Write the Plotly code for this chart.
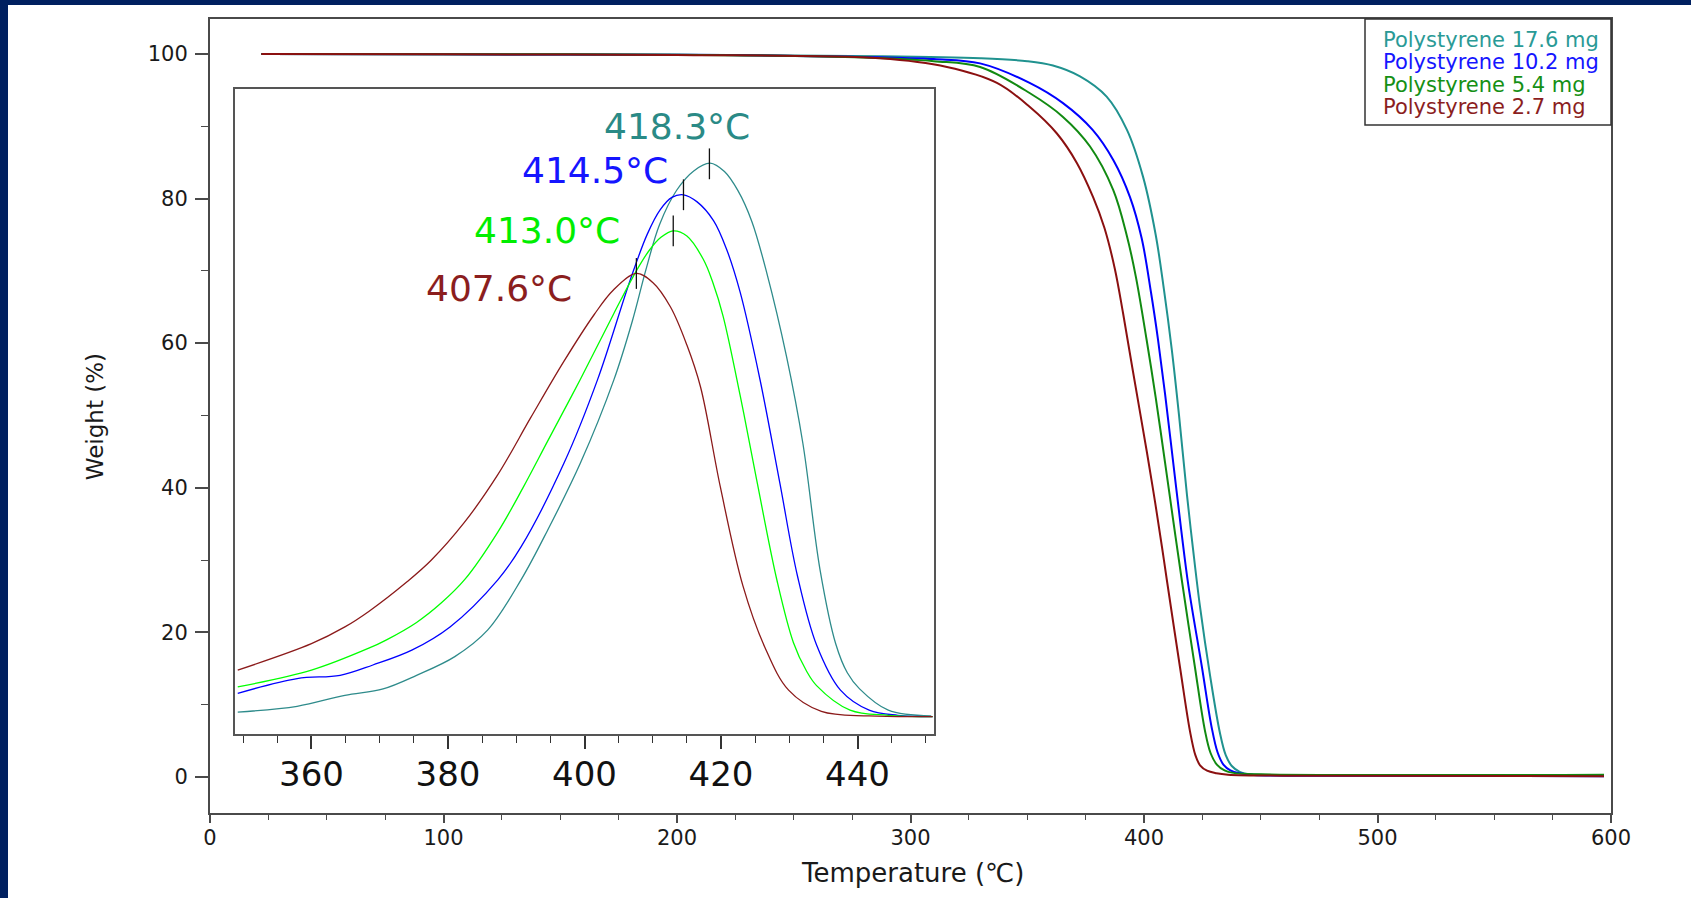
import plotly.graph_objects as go

# ---------------- data ----------------
series_names = ["Polystyrene 17.6 mg", "Polystyrene 10.2 mg",
                "Polystyrene 5.4 mg", "Polystyrene 2.7 mg"]

# TGA curves: temperature (°C) and weight (%)
tga_temp_176 = [22, 100, 200, 287, 330, 350, 361, 372.6, 384, 392.7, 399.6, 405, 408.5,
                411.9, 415, 418.4, 421, 424, 428.3, 432.5, 435, 437.6, 441, 446, 470, 597]
tga_wt_176 = [100, 99.95, 99.9, 99.7, 99.4, 99.0, 98.4, 96.9, 94.1, 89.5, 83.0, 75.0, 67.5,
              59.1, 50.0, 39.0, 31.5, 23.5, 14.0, 6.1, 3.0, 1.5, 0.7, 0.35, 0.25, 0.2]

tga_temp_102 = [22, 100, 200, 280, 310, 329.8, 351, 365.3, 378, 386.9, 394, 399, 403, 406,
                409, 412.5, 416, 419, 424.8, 429, 431.5, 434, 437, 441, 447, 470, 597]
tga_wt_102 = [100, 99.95, 99.9, 99.6, 99.3, 98.7, 96.0, 93.2, 89.5, 85.3, 80.2, 74.5, 67.0,
              60.5, 53.0, 43.5, 34.0, 26.5, 15.2, 6.8, 3.4, 1.7, 0.9, 0.5, 0.25, 0.15, 0.1]

tga_temp_54 = [22, 100, 200, 280, 310, 329.8, 351, 365.3, 376.9, 386.8, 392.7, 396.5, 401.1,
               405, 409, 412.5, 416.2, 421.8, 426.1, 428.5, 431.2, 434.5, 438.2, 450, 597]
tga_wt_54 = [100, 99.95, 99.9, 99.5, 99.0, 98.2, 94.6, 91.3, 87.2, 81.2, 74.8, 69.2, 60.5,
             52.5, 43.5, 35.5, 27.2, 15.2, 6.4, 3.3, 1.7, 0.9, 0.55, 0.35, 0.3]

tga_temp_27 = [22, 100, 200, 287, 315.6, 337, 351, 362.7, 371.3, 378.2, 383, 387.5, 391, 395,
               401.3, 404.7, 407.7, 409.8, 415.4, 419.7, 422, 424, 427, 431, 436, 470, 597]
tga_wt_27 = [100, 99.95, 99.85, 99.4, 98.2, 96.0, 92.7, 89.0, 84.9, 80.2, 76.0, 70.3, 64.2,
             56.6, 44.8, 38.1, 31.8, 27.2, 15.2, 6.3, 3.0, 1.6, 0.85, 0.5, 0.3, 0.15, 0.1]

# DTG curves (inset, arbitrary units)
dtg_temp_176 = [349.2, 357.9, 364.9, 370.5, 375.4, 381, 385.8, 390.7, 394.6, 399.4, 404.3,
                407, 409, 411, 413.5, 416, 418.4, 420.5, 422.5, 424.5, 426.7, 429.6, 432,
                434.5, 436.8, 438.5, 440.3, 444.5, 450.8]
dtg_rate_176 = [3.4, 4.3, 6.0, 7.0, 9.1, 12.0, 16.1, 23.9, 31.6, 42, 54.9,
                64, 72, 79, 84.3, 87.3, 88.5, 87.2, 84.2, 79.5, 71.5, 58.5, 45,
                25.5, 14, 9.5, 7.0, 3.7, 2.8]

dtg_temp_102 = [349.2, 357.9, 364.2, 369, 374.7, 380.3, 387.3, 390.7, 397, 401.9, 406.7,
                409.2, 411.1, 412.8, 414.5, 416.5, 418.9, 420.8, 422.8, 425.7, 428.6, 431.2,
                434, 437.5, 441.7, 445.9, 451]
dtg_rate_102 = [6.3, 8.6, 9.1, 10.7, 13.0, 16.6, 23.9, 29.0, 42, 54.9, 70.4,
                77.5, 81.3, 83.2, 83.6, 82.5, 79.6, 75.2, 68.5, 55.0, 39.0, 24.5,
                13.8, 6.8, 3.7, 2.9, 2.7]

dtg_temp_54 = [349.2, 360, 368.4, 371, 375.4, 379, 382.5, 387.3, 391, 394.6, 399.4, 404.3,
               407.7, 409.5, 411.2, 413.0, 415, 417.4, 418.8, 420.3, 422.8, 425.2, 428.2,
               430.6, 432.5, 434, 438.9, 444.5, 451]
dtg_rate_54 = [7.3, 9.9, 13.3, 14.6, 17.3, 20.3, 24.0, 31.3, 38.2, 45.4, 55.0, 65.2,
               72.0, 75.0, 77.0, 78.0, 77.2, 73.6, 70.0, 64.8, 52.5, 39.5, 23.8,
               14.2, 9.8, 7.5, 3.7, 2.9, 2.7]

dtg_temp_27 = [349.2, 360, 364.9, 368.4, 374, 377.5, 382.4, 387.3, 392.1, 397, 401.4,
               404.2, 407.6, 410, 412.6, 415, 417, 419.9, 423.2, 426.4, 429.9, 434.7,
               441.7, 451]
dtg_rate_27 = [9.9, 14.0, 16.6, 19.0, 23.6, 26.9, 32.8, 40.2, 49.0, 57.8, 65.0,
               68.8, 71.4, 70.0, 66.2, 60.3, 53.8, 38.3, 23.0, 13.5, 6.8, 3.5,
               2.8, 2.7]

peak_temps = [418.3, 414.5, 413.0, 407.6]
peak_rates = [88.4, 83.6, 78.0, 71.4]

main_x_ticks = [0, 100, 200, 300, 400, 500, 600]
main_y_ticks = [0, 20, 40, 60, 80, 100]
inset_x_ticks = [360, 380, 400, 420, 440]

# ---------------- styling / layout ----------------
W, H = 1691, 898
FONT = "DejaVu Sans"


def fx(px):
    return px / W


def fy(py):
    return 1 - py / H


main_colors = ["#20928f", "#0000ff", "#118a11", "#8b1010"]
inset_colors = ["#2e8b8b", "#0000ff", "#00ff00", "#8b1a1a"]
label_colors = ["#2a8a86", "#1515ff", "#00ee00", "#8b1e1e"]
legend_colors = ["#2a9a96", "#1515ff", "#159015", "#8b1e1e"]
# label centre positions in inset data coords (x, y)
label_pos = [(413.6, 94.2), (401.6, 87.4), (394.5, 78.1), (387.5, 69.1)]

tga_temps = [tga_temp_176, tga_temp_102, tga_temp_54, tga_temp_27]
tga_wts = [tga_wt_176, tga_wt_102, tga_wt_54, tga_wt_27]
dtg_temps = [dtg_temp_176, dtg_temp_102, dtg_temp_54, dtg_temp_27]
dtg_rates = [dtg_rate_176, dtg_rate_102, dtg_rate_54, dtg_rate_27]

fig = go.Figure()

for i in range(4):
    fig.add_trace(go.Scatter(
        x=tga_temps[i], y=tga_wts[i], mode="lines", name=series_names[i],
        line=dict(color=main_colors[i], width=2, shape="spline", smoothing=1.0),
        xaxis="x", yaxis="y", showlegend=False))

for i in range(4):
    fig.add_trace(go.Scatter(
        x=dtg_temps[i], y=dtg_rates[i], mode="lines", name=series_names[i],
        line=dict(color=inset_colors[i], width=1.3, shape="spline", smoothing=1.0),
        xaxis="x2", yaxis="y2", showlegend=False))

fig.add_trace(go.Scatter(
    x=peak_temps, y=peak_rates, mode="markers",
    marker=dict(symbol="line-ns", size=22, line=dict(color="#111111", width=1.3)),
    xaxis="x2", yaxis="y2", showlegend=False))

axis_line = "#4a4a4a"
tick_font = dict(family=FONT, size=21, color="#1a1a1a")

fig.update_layout(
    template="none",
    width=W, height=H, autosize=False,
    margin=dict(l=0, r=0, t=0, b=0, pad=0),
    paper_bgcolor="white", plot_bgcolor="white",
    xaxis=dict(domain=[fx(210), fx(1611)], range=[0, 600], tickvals=main_x_ticks,
               ticks="outside", ticklen=8, tickwidth=1.5, tickcolor=axis_line,
               minor=dict(dtick=25, tick0=0, ticks="outside", ticklen=5,
                          tickwidth=1.2, tickcolor=axis_line, showgrid=False),
               showline=True, linecolor=axis_line, linewidth=2, mirror=True,
               showgrid=False, zeroline=False, tickfont=tick_font, automargin=False,
               anchor="y", ticklabelstandoff=-3),
    yaxis=dict(domain=[fy(813), fy(19)], range=[-5, 104.84], tickvals=main_y_ticks,
               ticks="outside", ticklen=13, tickwidth=1.5, tickcolor=axis_line,
               minor=dict(dtick=10, tick0=0, ticks="outside", ticklen=7,
                          tickwidth=1.2, tickcolor=axis_line, showgrid=False),
               showline=True, linecolor=axis_line, linewidth=2, mirror=True,
               showgrid=False, zeroline=False, tickfont=tick_font, automargin=False,
               anchor="x", ticklabelstandoff=3),
    xaxis2=dict(domain=[fx(235), fx(934)], range=[348.8, 451.2], tickvals=inset_x_ticks,
                ticks="outside", ticklen=13, tickwidth=1.5, tickcolor="#333333",
                minor=dict(dtick=5, tick0=350, ticks="outside", ticklen=7,
                           tickwidth=1.2, tickcolor="#333333", showgrid=False),
                showline=True, linecolor="#555555", linewidth=2, mirror=True,
                showgrid=False, zeroline=False, automargin=False,
                tickfont=dict(family=FONT, size=34, color="#111111"),
                anchor="y2", ticklabelstandoff=-4),
    yaxis2=dict(domain=[fy(734), fy(89)], range=[0, 100],
                showticklabels=False, ticks="", automargin=False,
                showline=True, linecolor="#555555", linewidth=2, mirror=True,
                showgrid=False, zeroline=False, anchor="x2"),
    showlegend=False,
)

shapes = [
    dict(type="rect", xref="paper", yref="paper", x0=0, x1=fx(8), y0=0, y1=1,
         fillcolor="#002060", line=dict(width=0), layer="above"),
    dict(type="rect", xref="paper", yref="paper", x0=0, x1=1, y0=fy(5), y1=1,
         fillcolor="#002060", line=dict(width=0), layer="above"),
    dict(type="rect", xref="paper", yref="paper", x0=fx(1365), x1=fx(1611),
         y0=fy(125), y1=fy(19), fillcolor="rgba(0,0,0,0)",
         line=dict(color="#333333", width=1.5), layer="above"),
]

annotations = []
legend_y = [40, 62.5, 85, 107.5]
for i, name in enumerate(series_names):
    annotations.append(dict(
        xref="paper", yref="paper", x=fx(1381), y=fy(legend_y[i]),
        xanchor="left", yanchor="middle", showarrow=False, text=name,
        font=dict(family=FONT, size=21, color=legend_colors[i])))

for i, t in enumerate(peak_temps):
    annotations.append(dict(
        xref="x2", yref="y2", x=label_pos[i][0], y=label_pos[i][1],
        xanchor="center", yanchor="middle", showarrow=False,
        text=f"{t:.1f}°C",
        font=dict(family=FONT, size=36, color=label_colors[i])))

annotations.append(dict(
    xref="paper", yref="paper", x=fx(912), y=fy(873), xanchor="center", yanchor="middle",
    showarrow=False, text="Temperature (℃)",
    font=dict(family=FONT, size=26, color="#1a1a1a")))
annotations.append(dict(
    xref="paper", yref="paper", x=fx(94.5), y=fy(416.7), xanchor="center", yanchor="middle",
    showarrow=False, text="Weight (%)", textangle=-90,
    font=dict(family=FONT, size=23, color="#1a1a1a")))

fig.update_layout(shapes=shapes, annotations=annotations)

fig.write_html("out.html")
